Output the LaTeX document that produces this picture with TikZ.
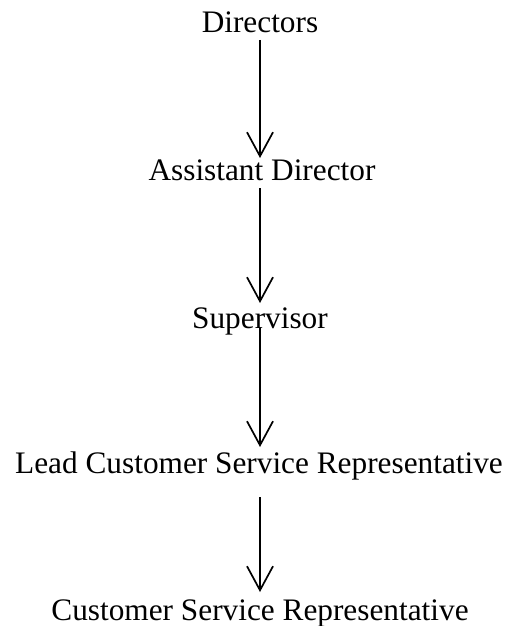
\documentclass[tikz,border=0pt]{standalone}
\usepackage{fontspec}
\setmainfont{Liberation Serif}
\usetikzlibrary{arrows.meta}
\begin{document}
\begin{tikzpicture}[
		rank/.style={inner sep=0pt, anchor=base, font=\fontsize{31.3}{36}\selectfont},
		down/.style={line width=1.9pt, -{Straight Barb[length=24pt,width=26pt,line width=1.7pt]}}
		]
		\useasboundingbox (0,0) rectangle (510pt,-626pt);
		
		\node[rank](D1) at (260pt,-33pt){Directors};
		\node[rank](D2) at (262pt,-180pt){Assistant Director};
		\node[rank](D3) at (260pt,-328pt){Supervisor};
		\node[rank](D4) at (259pt,-473pt){Lead Customer Service Representative};
		\node[rank](D5) at (260pt,-620pt){Customer Service Representative};
		
		\draw[down, shorten <=7pt, shorten >=22pt] (D1.base) -- (D1.base |- D2.base);
		\draw[down, shorten <=8pt, shorten >=25pt] (D1.base |- D2.base) -- (D1.base |- D3.base);
		\draw[down, shorten <=0pt, shorten >=26pt] (D3.base) -- (D3.base |- D4.base);
		\draw[down, shorten <=24pt, shorten >=28pt] (D3.base |- D4.base) -- (D3.base |- D5.base);
	\end{tikzpicture}
\end{document}
